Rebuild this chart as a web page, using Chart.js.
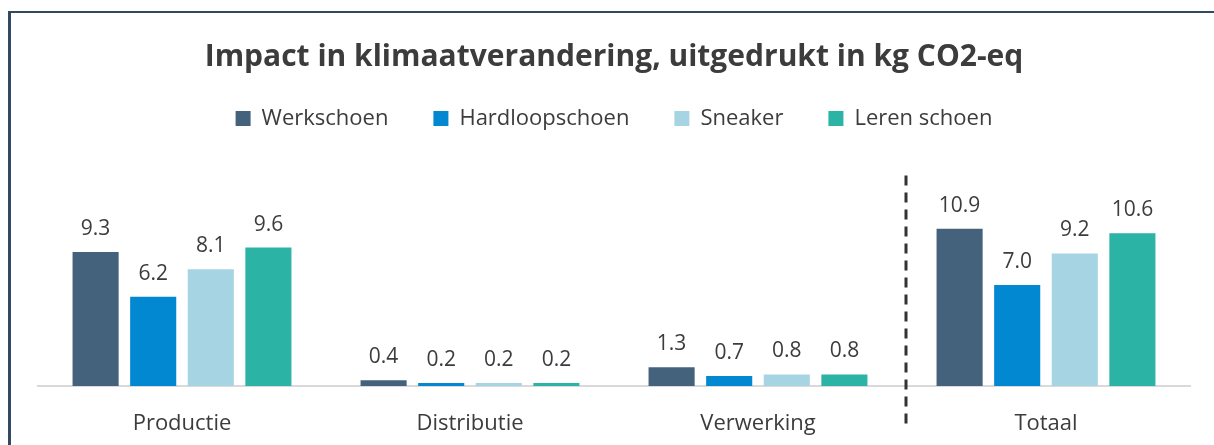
<!DOCTYPE html>
<html>
<head>
<meta charset="utf-8">
<script src="https://cdn.jsdelivr.net/npm/chart.js@4.4.0/dist/chart.umd.min.js"></script>
<style>
  html, body { margin: 0; padding: 0; background: #ffffff; }
  #wrap { position: relative; width: 1214px; height: 445px; overflow: hidden; }
  #c { position: absolute; left: 0; top: 0; }
  #bl { position: absolute; left: 8px; top: 11px; width: 3px; height: 434px; background: #33495f; }
  #bt { position: absolute; left: 8px; top: 11px; width: 1206px; height: 2px; background: #33495f; }
</style>
</head>
<body>
<div id="wrap">
  <canvas id="c" width="1214" height="445"></canvas>
  <div id="bl"></div>
  <div id="bt"></div>
</div>
<script>
const categories = ['Productie', 'Distributie', 'Verwerking', 'Totaal'];
const werkschoen = [9.3, 0.4, 1.3, 10.9];
const hardloopschoen = [6.2, 0.2, 0.7, 7.0];
const sneaker = [8.1, 0.2, 0.8, 9.2];
const lerenSchoen = [9.6, 0.2, 0.8, 10.6];
const seriesNames = ['Werkschoen', 'Hardloopschoen', 'Sneaker', 'Leren schoen'];
const seriesColors = ['#44627c', '#0288d1', '#a6d4e3', '#2bb3a6'];
const titleText = 'Impact in klimaatverandering, uitgedrukt in kg CO2-eq';

const FONT = "'Open Sans', 'Noto Sans', sans-serif";
const TEXT = '#3c3c3c';

const valueLabels = {
  id: 'valueLabels',
  afterDatasetsDraw(chart) {
    const ctx = chart.ctx;
    ctx.save();
    ctx.font = '21px ' + FONT;
    ctx.fillStyle = TEXT;
    ctx.textAlign = 'center';
    ctx.textBaseline = 'alphabetic';
    chart.data.datasets.forEach((ds, i) => {
      const meta = chart.getDatasetMeta(i);
      meta.data.forEach((bar, j) => {
        ctx.fillText(ds.data[j].toFixed(1), bar.x, bar.y - 17);
      });
    });
    ctx.restore();
  }
};

const separator = {
  id: 'separator',
  afterDraw(chart) {
    const xs = chart.scales.x, ys = chart.scales.y;
    const x = (xs.getPixelForValue(2) + xs.getPixelForValue(3)) / 2 + 4;
    const ctx = chart.ctx;
    ctx.save();
    ctx.strokeStyle = '#333333';
    ctx.lineWidth = 3;
    ctx.setLineDash([10, 7]);
    ctx.beginPath();
    ctx.moveTo(x, ys.getPixelForValue(14.6));
    ctx.lineTo(x, chart.chartArea.bottom + 39);
    ctx.stroke();
    ctx.restore();
  }
};

const datasetsData = [werkschoen, hardloopschoen, sneaker, lerenSchoen];

new Chart(document.getElementById('c'), {
  type: 'bar',
  data: {
    labels: categories,
    datasets: datasetsData.map((d, i) => ({
      label: seriesNames[i],
      data: d,
      backgroundColor: seriesColors[i],
      borderWidth: 0,
      barPercentage: 0.8,
      categoryPercentage: 0.8
    }))
  },
  options: {
    responsive: false,
    animation: false,
    devicePixelRatio: 1,
    layout: { padding: { left: 38, right: 24, top: 0, bottom: 0 } },
    plugins: {
      title: {
        display: true,
        text: titleText,
        color: TEXT,
        font: { family: FONT, size: 30, weight: 'bold', lineHeight: 0.35 },
        padding: { top: 52, bottom: 0 }
      },
      legend: {
        display: true,
        position: 'top',
        labels: {
          color: TEXT,
          font: { family: FONT, size: 22 },
          boxWidth: 15,
          boxHeight: 15,
          padding: 45
        }
      },
      tooltip: { enabled: false }
    },
    scales: {
      x: {
        grid: { display: false, drawTicks: false },
        border: { display: true, color: '#d9d9d9', width: 2 },
        ticks: { color: TEXT, font: { family: FONT, size: 22 }, padding: 25 },
        afterFit(axis) { axis.height = 59; }
      },
      y: {
        display: false,
        min: 0,
        max: 17.1
      }
    }
  },
  plugins: [valueLabels, separator]
});
</script>
</body>
</html>
